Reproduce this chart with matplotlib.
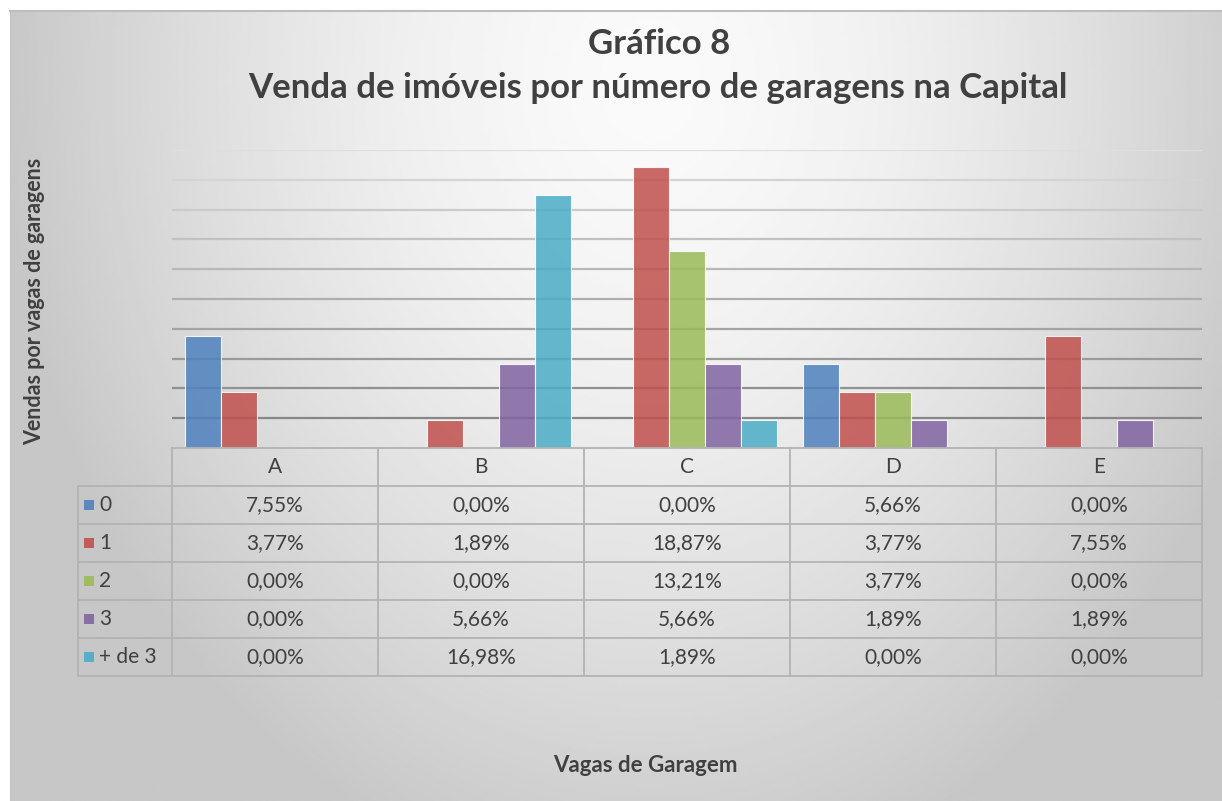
import numpy as np
import matplotlib
matplotlib.use("Agg")
import matplotlib.pyplot as plt

plt.rcParams['font.family'] = ['Lato', 'DejaVu Sans']

categories = ['A', 'B', 'C', 'D', 'E']
series_names = ['0', '1', '2', '3', '+ de 3']
vals_0 = [7.55, 0.00, 0.00, 5.66, 0.00]
vals_1 = [3.77, 1.89, 18.87, 3.77, 7.55]
vals_2 = [0.00, 0.00, 13.21, 3.77, 0.00]
vals_3 = [0.00, 5.66, 5.66, 1.89, 1.89]
vals_4 = [0.00, 16.98, 1.89, 0.00, 0.00]
series_values = [vals_0, vals_1, vals_2, vals_3, vals_4]
colors = ['#4F81BD', '#C0504D', '#9BBB59', '#8064A2', '#4BACC6']

W, H = 1222, 801
text_col = '#404040'
fig = plt.figure(figsize=(W / 100, H / 100), dpi=100)
fig.patch.set_facecolor('white')

# background panel with a soft radial gradient
bg = fig.add_axes([10 / W, 0, (W - 10) / W, (H - 11) / H])
xx, yy = np.meshgrid(np.linspace(10, W, 400), np.linspace(11, H, 300))
d = np.sqrt(((xx - 650) / 650) ** 2 + ((yy - 80) / 815) ** 2)
shade = np.clip(0.98 - 0.2 * d ** 1.6, 0.78, 1)
bg.imshow(shade, cmap='gray', vmin=0, vmax=1, aspect='auto',
          extent=[0, 1, 0, 1], origin='upper')
bg.set_xticks([])
bg.set_yticks([])
for s in bg.spines.values():
    s.set_visible(False)
bg.spines['top'].set_visible(True)
bg.spines['left'].set_visible(True)
bg.spines['top'].set_color('#bdbdbd')
bg.spines['left'].set_color('#c4c4c4')
bg.spines['top'].set_linewidth(1.5)

def fx(px):
    return px / W

def fy(py):
    return 1 - py / H

# main bar axes
ax = fig.add_axes([fx(172), fy(448), fx(1202) - fx(172), fy(150) - fy(448)])
ax.set_facecolor('none')
ax.set_xlim(-0.5, len(categories) - 0.5)
ax.set_ylim(0, 20)
ticks = np.arange(2, 21, 2)
grid_cols = np.linspace(0.53, 0.87, len(ticks))
for t, g in zip(ticks, grid_cols):
    ax.axhline(t, color=str(g), lw=1.6, zorder=0)

bw = 0.175
x = np.arange(len(categories))
for j, (vals, c) in enumerate(zip(series_values, colors)):
    ax.bar(x + (j - 2) * bw, vals, width=bw, color=c, alpha=0.85,
           edgecolor=(1, 1, 1, 0.5), linewidth=0.8, zorder=2)
ax.set_xticks([])
ax.set_yticks([])
for s in ax.spines.values():
    s.set_visible(False)

# data table under the bars
tax = fig.add_axes([fx(172), fy(676), fx(1202) - fx(172), fy(448) - fy(676)])
tax.set_facecolor('none')
tax.set_xlim(-0.5, len(categories) - 0.5)
tax.set_ylim(len(series_names) + 1, 0)
tax.axis('off')
px_unit = 5 / 1030
left = -0.5 - 94 * px_unit
line_kw = dict(color='#b3b3b3', lw=1.3, clip_on=False)
tax.plot([-0.5, 4.5], [0, 0], **line_kw)
for r in range(1, len(series_names) + 2):
    tax.plot([left, 4.5], [r, r], **line_kw)
tax.plot([left, left], [1, len(series_names) + 1], **line_kw)
for k in range(len(categories) + 1):
    tax.plot([k - 0.5, k - 0.5], [0, len(series_names) + 1], **line_kw)

fs_tab = 15
for i, cat in enumerate(categories):
    tax.text(i, 0.5, cat, ha='center', va='center', fontsize=fs_tab, color=text_col)

mk_x = -0.5 + (89 - 172) * px_unit
for r, (name, vals, c) in enumerate(zip(series_names, series_values, colors)):
    yr = r + 1.5
    tax.scatter([mk_x], [yr], marker='s', s=55, color=c, alpha=0.9,
                clip_on=False, linewidths=0)
    tax.text(mk_x + 10 * px_unit, yr, name, ha='left', va='center', fontsize=fs_tab,
             color=text_col, clip_on=False)
    for i, v in enumerate(vals):
        lbl = f"{v:.2f}".replace('.', ',') + '%'
        tax.text(i, yr, lbl, ha='center', va='center', fontsize=fs_tab, color=text_col)

# titles
fig.text(fx(659), fy(44), 'Gráfico 8', ha='center', va='center',
         fontsize=25, fontweight='bold', color=text_col)
fig.text(fx(658), fy(88), 'Venda de imóveis por número de garagens na Capital',
         ha='center', va='center', fontsize=25, fontweight='bold', color=text_col)
fig.text(fx(35), fy(301), 'Vendas por vagas de garagens', ha='center', va='center',
         rotation=90, fontsize=15.5, fontweight='bold', color=text_col)
fig.text(fx(645), fy(766), 'Vagas de Garagem', ha='center', va='center',
         fontsize=16, fontweight='bold', color=text_col)

fig.savefig('out.png', dpi=100)
